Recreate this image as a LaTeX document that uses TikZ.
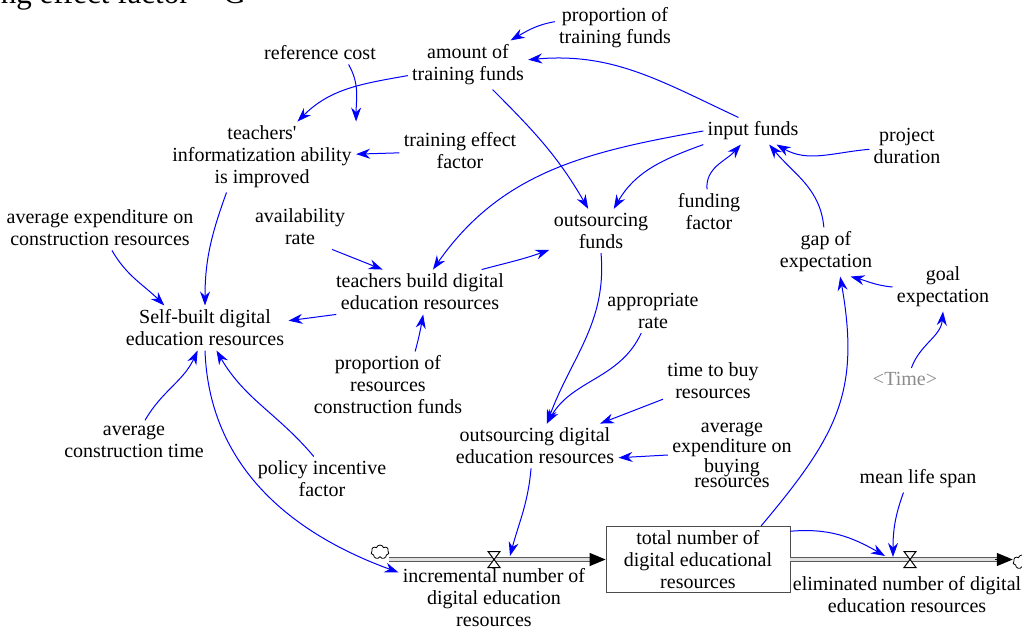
\documentclass[tikz,border=0pt]{standalone}
\usepackage{fontspec}
\setmainfont{Liberation Serif}
\usetikzlibrary{arrows.meta,shapes.symbols}
\begin{document}
\begin{tikzpicture}[x=.5pt,y=.5pt,>={Stealth[length=7pt,width=5pt]},
    var/.style={align=center,inner sep=2pt,font=\fontsize{10}{11}\selectfont},
    link/.style={->,blue,line width=.5pt},
    pipe/.style={draw=black!65,line width=.6pt,double=black!12,double distance=1.4pt},
    sky/.style={cloud,draw,cloud puffs=7,aspect=1.3,minimum width=9pt,minimum height=7pt,inner sep=0pt}]
  \useasboundingbox (0,0) rectangle (1022,627);
  \node[anchor=base east,inner sep=0pt,font=\fontsize{15.5}{16}\selectfont] (capt) at (190,623) {training effect factor};
  \node[anchor=base west,inner sep=0pt,font=\fontsize{15.5}{16}\selectfont] (captG) at (223,623) {G};
  % variables
  \node[var] (amt) at (468,562) {amount of\\training funds};
  \node[var] (propTF) at (615,599) {proportion of\\training funds};
  \node[var] (refcost) at (320,574) {reference cost};
  \node[var] (teachInfo) at (262,470) {teachers\textquotesingle\\informatization ability\\is improved};
  \node[var] (trainEff) at (460,476) {training effect\\factor};
  \node[var] (input) at (753,496) {input funds};
  \node[var] (projDur) at (907,481) {project\\duration};
  \node[var] (fundFac) at (709,415) {funding\\factor};
  \node[var] (outFunds) at (601,396) {outsourcing\\funds};
  \node[var] (gap) at (826,375) {gap of\\expectation};
  \node[var] (goal) at (943,340) {goal\\expectation};
  \node[var,text=black!45] (time) at (905,248) {<Time>};
  \node[var] (avgCons) at (100,399) {average expenditure on\\construction resources};
  \node[var] (avail) at (300,400) {availability\\rate};
  \node[var] (tbuild) at (420,335) {teachers build digital\\education resources};
  \node[var] (selfb) at (205,299) {Self-built digital\\education resources};
  \node[var] (approp) at (653,316) {appropriate\\rate};
  \node[var] (propRes) at (388,242) {proportion of\\resources\\construction funds};
  \node[var] (timeBuy) at (713,246) {time to buy\\resources};
  \node[var] (outDig) at (535,181) {outsourcing digital\\education resources};
  \node[var,font=\fontsize{10}{7.2}\selectfont] (avgBuy) at (732,172) {average\\expenditure on\\buying\\resources};
  \node[var] (avgTime) at (134,186) {average\\construction time};
  \node[var] (policy) at (322,148) {policy incentive\\factor};
  \node[var] (life) at (918,148) {mean life span};
  % stock and flows
  \node[var,draw=black!70,minimum width=92pt,minimum height=32.5pt] (total) at (698,67.5) {total number of\\digital educational\\resources};
  \node[var] (incr) at (494,29) {incremental number of\\digital education\\resources};
  \node[var] (elim) at (907,32.5) {eliminated number of digital\\education resources};
  \node[sky] (srcCloud) at (380,75) {};
  \node[sky] (sinkCloud) at (1022,65) {};
  \coordinate (inValve) at (494,67.5);
  \coordinate (outValve) at (910,67.5);
  \coordinate (inRate) at (510,71);
  \coordinate (outRate) at (885,71);
  \coordinate (outRate2) at (893,70);
  \draw[pipe] (srcCloud.east|-inValve) -- ([xshift=-7pt]total.west);
  \draw[-{Triangle[length=8pt,width=6.5pt]},line width=.6pt] ([xshift=-8pt]total.west) -- (total.west);
  \draw[pipe] (total.east) -- ([xshift=-8pt]sinkCloud.west|-outValve);
  \draw[-{Triangle[length=8pt,width=6.5pt]},line width=.6pt] ([xshift=-9pt]sinkCloud.west|-outValve) -- (sinkCloud.west|-outValve);
  \def\valvepath{-- ++(12,0) -- ++(-12,-16) -- ++(12,0) -- cycle}
  \draw[fill=white,line width=.5pt] (inValve) ++(-6,8) \valvepath;
  \draw[fill=white,line width=.5pt] (outValve) ++(-6,8) \valvepath;
  % links
  \draw[link] (propTF.174) to[out=190,in=30] (amt);
  \draw[link] (input.137) to[out=155,in=5] (amt.5);
  \draw[link] (amt) to[out=190,in=45] (teachInfo);
  \draw[link] (refcost.-22) to[out=-60,in=90] (teachInfo.north east);
  \draw[link] (trainEff) -- (teachInfo);
  \draw[link] (amt) to[out=-45,in=120] (outFunds);
  \draw[link] (input.south west) to[out=200,in=60] (outFunds.60);
  \draw[link] (input.west) to[out=190,in=55] (tbuild.60);
  \draw[link] (fundFac.95) to[out=95,in=228] (input.228);
  \draw[link] (projDur.185) to[out=185,in=-30] (input.-30);
  \draw[link] (gap.95) to[out=95,in=-50] (input.-40);
  \draw[link] (goal.west) to[out=175,in=-15] (gap.-45);
  \draw[link] (time.60) to[out=70,in=-95] (goal.south);
  \draw[link] (total.28) to[out=50,in=-80,looseness=1.15] (gap.-60);
  \draw[link] (tbuild.20) to[out=15,in=200] (outFunds.200);
  \draw[link] (tbuild.195) -- (selfb.5);
  \draw[link] (avail.-35) -- (tbuild.149);
  \draw[link] (propRes.51) to[out=75,in=-100] (tbuild.-82);
  \draw[link] (teachInfo.-135) to[out=-110,in=90] (selfb.north);
  \draw[link] (avgCons.-62) to[out=-60,in=135] (selfb.151);
  \draw[link] (avgTime.62) to[out=60,in=-115] (selfb.-108);
  \draw[link] (policy.110) to[out=130,in=-60] (selfb.-63);
  \draw[link] (selfb.south) to[out=-88,in=160] (incr.165);
  \draw[link] (outFunds.south) to[out=-85,in=70] (outDig.62);
  \draw[link] (approp.-118) to[out=-115,in=60] (outDig.62);
  \draw[link] (timeBuy.-160) -- (outDig.19);
  \draw[link] (avgBuy.west) -- (outDig.-8);
  \draw[link] (outDig.-100) to[out=-95,in=75] (inRate);
  \draw[link] (total.17) to[out=5,in=150] (outRate);
  \draw[link] (life.-137) to[out=-110,in=90] (outRate2);
\end{tikzpicture}
\end{document}
